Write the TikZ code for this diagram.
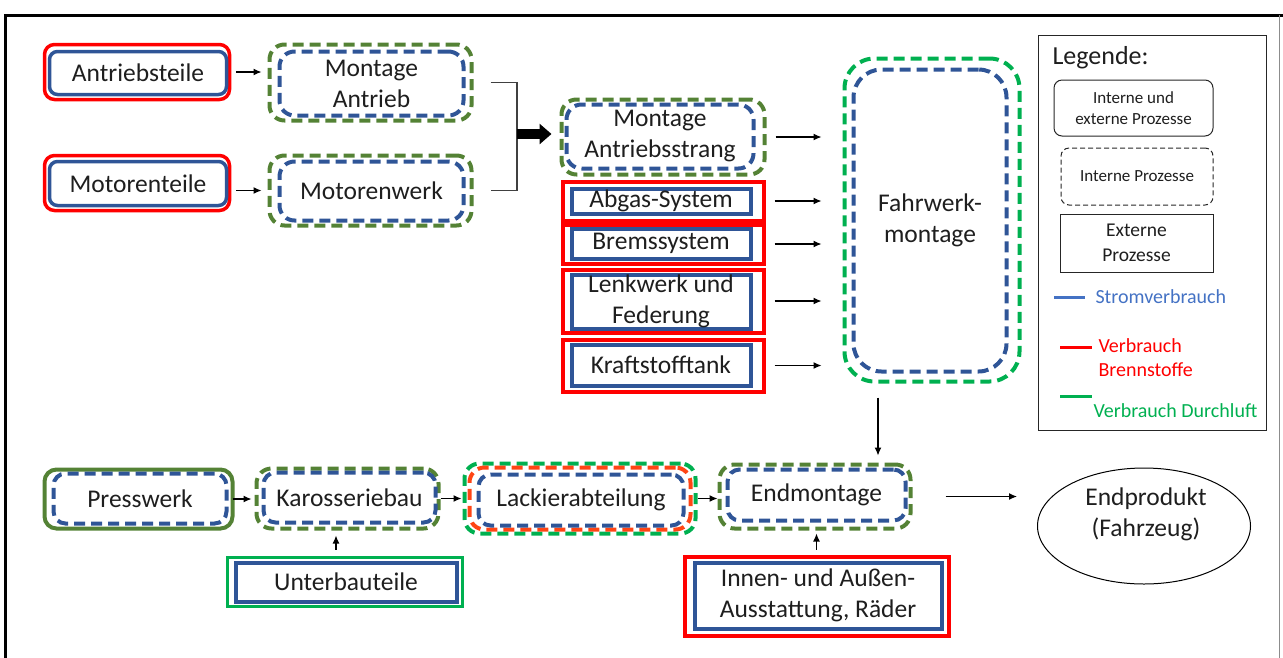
\documentclass[tikz,border=0pt]{standalone}
\usepackage{fontspec}
\setmainfont{Carlito}
\usetikzlibrary{arrows.meta,shapes.geometric}
\definecolor{procblue}{RGB}{47,85,151}
\definecolor{stromblue}{RGB}{68,114,196}
\definecolor{olivegreen}{RGB}{84,130,53}
\definecolor{luftgreen}{RGB}{0,176,80}
\definecolor{fuelred}{RGB}{255,0,0}
\definecolor{paintred}{RGB}{255,69,20}
\definecolor{inktext}{RGB}{30,30,30}

\begin{document}
\begin{tikzpicture}[x=1pt,y=-1pt,
  font=\fontsize{25.5}{31}\selectfont,text=inktext,
  frame/.style={inner sep=0pt,align=center},
  dashpat/.style={dash pattern=on 11pt off 6pt},
  redround/.style={frame,draw=fuelred,line width=3.5pt,rounded corners=10pt},
  blueround/.style={frame,draw=procblue,line width=3.5pt,rounded corners=8pt},
  redrect/.style={frame,draw=fuelred,line width=4pt},
  bluerect/.style={frame,draw=procblue,line width=4pt},
  greenrect/.style={frame,draw=luftgreen,line width=3.5pt},
  oliveround/.style={frame,draw=olivegreen,line width=4pt,rounded corners=12pt},
  olivedash/.style={frame,draw=olivegreen,line width=4pt,dashpat,rounded corners=15pt},
  greendash/.style={frame,draw=luftgreen,line width=4pt,dashpat,rounded corners=15pt},
  reddash/.style={frame,draw=paintred,line width=4pt,dashpat,rounded corners=15pt},
  bluedash/.style={frame,draw=procblue,line width=4pt,dashpat,rounded corners=15pt},
  legbox/.style={frame,draw=black!85,line width=1pt,font=\fontsize{17}{21}\selectfont},
  arr/.style={draw=black,line width=1.2pt,-{Latex[length=8pt,width=7pt]}},
  bigarr/.style={draw=black,line width=10pt,-{Triangle[length=12pt,width=20pt]}},
  link/.style={draw=black!75,line width=1.2pt}]
  \useasboundingbox (0,0) rectangle (1283,657);
  \draw[line width=3pt] (5,660) -- (5,15) -- (1283,15);
  \draw[black!45,line width=1pt] (1279,15) -- (1279,660);

  \node[redround,minimum width=185,minimum height=55] (antriebsteile) at (137,72) {};
  \node[blueround,minimum width=177,minimum height=43] (antriebsteile-in) at (138,73) {Antriebsteile};
  \node[redround,minimum width=185,minimum height=55] (motorenteile) at (137,183) {};
  \node[blueround,minimum width=177,minimum height=44] (motorenteile-in) at (138,183.5) {Motorenteile};
  \node[olivedash,minimum width=202,minimum height=76] (montageantrieb) at (370.5,82.5) {};
  \node[bluedash,minimum width=184,minimum height=64] (montageantrieb-in) at (371.5,83.5) {Montage\\Antrieb};
  \node[olivedash,minimum width=202,minimum height=70] (motorenwerk) at (370.5,190.5) {};
  \node[bluedash,minimum width=184,minimum height=59] (motorenwerk-in) at (371.5,191) {Motorenwerk};

  \node[olivedash,minimum width=203,minimum height=75] (antriebsstrang) at (663,137) {};
  \node[bluedash,minimum width=187,minimum height=64] (antriebsstrang-in) at (660,136.5) {Montage\\Antriebsstrang};
  \node[redrect,minimum width=201,minimum height=39] (abgas) at (663,201) {};
  \node[bluerect,minimum width=179,minimum height=25] (abgas-in) at (661,201) {Abgas-System};
  \node[redrect,minimum width=201,minimum height=39] (bremssystem) at (663,244) {};
  \node[bluerect,minimum width=179,minimum height=30] (bremssystem-in) at (661,243.5) {Bremssystem};
  \node[redrect,minimum width=201,minimum height=63] (lenkwerk) at (663,301) {};
  \node[bluerect,minimum width=179,minimum height=54] (lenkwerk-in) at (661,301.5) {Lenkwerk und\\Federung};
  \node[redrect,minimum width=201,minimum height=52] (kraftstofftank) at (663,365.5) {};
  \node[bluerect,minimum width=179,minimum height=41] (kraftstofftank-in) at (661,365) {Kraftstofftank};

  \node[greendash,minimum width=175,minimum height=323,rounded corners=30pt] (fahrwerk) at (932,220) {};
  \node[bluedash,minimum width=153,minimum height=302,rounded corners=28pt] (fahrwerk-in) at (930,220.5) {Fahrwerk-\\montage};

  \node[oliveround,minimum width=188,minimum height=59] (presswerk) at (138.5,499) {};
  \node[bluedash,minimum width=173,minimum height=50,rounded corners=12pt] (presswerk-in) at (140,498.5) {Presswerk};
  \node[olivedash,minimum width=182,minimum height=60] (karosseriebau) at (347.5,498.5) {};
  \node[bluedash,minimum width=172,minimum height=50,rounded corners=12pt] (karosseriebau-in) at (349.5,497.5) {Karosseriebau};
  \node[greendash,minimum width=231,minimum height=70] (lackier) at (580,498.5) {};
  \node[reddash,minimum width=221,minimum height=62] (lackier-mid) at (580,498.5) {};
  \node[bluedash,minimum width=205,minimum height=51,rounded corners=12pt] (lackier-in) at (581,500) {Lackierabteilung};
  \node[olivedash,minimum width=191,minimum height=64] (endmontage) at (815,496.5) {};
  \node[bluedash,minimum width=178,minimum height=51,rounded corners=12pt] (endmontage-in) at (816.5,495) {Endmontage};
  \node[draw=black,line width=1pt,ellipse,inner sep=0pt,minimum width=213,minimum height=116] (endprodukt) at (1144,526) {};
  \node[align=center] (endprodukt-text) at (1146,514) {Endprodukt\\(Fahrzeug)};

  \node[greenrect,minimum width=235,minimum height=49] (unterbauteile) at (345,582) {};
  \node[bluerect,minimum width=221,minimum height=39] (unterbauteile-in) at (346,582) {Unterbauteile};
  \node[redrect,minimum width=264,minimum height=79] (ausstattung) at (816.5,596) {};
  \node[bluerect,minimum width=247,minimum height=66] (ausstattung-in) at (818,595.5) {Innen- und Außen-\\Ausstattung, Räder};

  \draw[arr,shorten <=5pt,shorten >=6pt] (antriebsteile.east) -- (antriebsteile.east -| montageantrieb.west);
  \draw[arr,shorten <=5pt,shorten >=6pt] (motorenwerk.west -| motorenteile.east) -- (motorenwerk.west);
  \coordinate (junction) at (517,134);
  \draw[link] ([xshift=17pt]montageantrieb.east) -| (junction) |- ([xshift=17pt]motorenwerk.east);
  \draw[bigarr,shorten >=8pt] (junction) -- (junction -| antriebsstrang.west);

  \draw[arr,shorten <=9pt,shorten >=21pt] (antriebsstrang.east) -- (antriebsstrang.east -| fahrwerk.west);
  \draw[arr,shorten <=9pt,shorten >=21pt] (abgas.east) -- (abgas.east -| fahrwerk.west);
  \draw[arr,shorten <=9pt,shorten >=21pt] (bremssystem.east) -- (bremssystem.east -| fahrwerk.west);
  \draw[arr,shorten <=9pt,shorten >=21pt] (lenkwerk.east) -- (lenkwerk.east -| fahrwerk.west);
  \draw[arr,shorten <=9pt,shorten >=21pt] (kraftstofftank.east) -- (kraftstofftank.east -| fahrwerk.west);

  \coordinate (fw drop) at ([xshift=-54pt]fahrwerk.south);
  \draw[arr,shorten <=14pt,shorten >=7pt] (fw drop) -- (fw drop |- endmontage.north);

  \draw[arr,shorten <=-2pt,shorten >=3pt] (presswerk.east) -- (presswerk.east -| karosseriebau.west);
  \draw[arr,shorten >=1pt] (karosseriebau.east) -- (karosseriebau.east -| lackier.west);
  \draw[arr] (lackier.east) -- (lackier.east -| endmontage.west);
  \draw[arr,shorten <=33pt,shorten >=20pt] (endmontage.east) -- (endmontage.east -| endprodukt.west);
  \coordinate (ub up) at ([xshift=-9pt]unterbauteile.north);
  \draw[arr,shorten <=6pt,shorten >=5pt] (ub up) -- (ub up |- karosseriebau.south);
  \draw[arr,shorten <=5pt,shorten >=3pt] (ausstattung.north) -- (ausstattung.north |- endmontage.south);

  \draw[black!85,line width=1pt] (1038,35) rectangle (1266,430);
  \node[anchor=west,font=\fontsize{26}{30}\selectfont] (legende) at (1049,58) {Legende:};
  \node[legbox,rounded corners=8pt,minimum width=159,minimum height=56] (leg-beide) at (1133.5,108) {Interne und\\externe Prozesse};
  \node[legbox,dash pattern=on 5pt off 3pt,rounded corners=8pt,minimum width=152,minimum height=57] (leg-intern) at (1137,176.5) {Interne Prozesse};
  \node[legbox,minimum width=153,minimum height=58,font=\fontsize{19.5}{25}\selectfont] (leg-extern) at (1136.5,243) {Externe\\Prozesse};
  \draw[stromblue,line width=3pt] (1054,297) -- (1085,297);
  \node[anchor=west,text=stromblue,font=\fontsize{20}{24}\selectfont] (leg-strom) at (1092,297) {Stromverbrauch};
  \draw[fuelred,line width=3pt] (1060,347) -- (1092,347);
  \node[anchor=north west,align=left,text=fuelred,font=\fontsize{20}{24}\selectfont] (leg-brenn) at (1095,335) {Verbrauch\\Brennstoffe};
  \draw[luftgreen,line width=3pt] (1060,396) -- (1092,396);
  \node[anchor=west,text=luftgreen,font=\fontsize{20}{24}\selectfont] (leg-luft) at (1090,411) {Verbrauch Durchluft};
\end{tikzpicture}
\end{document}
